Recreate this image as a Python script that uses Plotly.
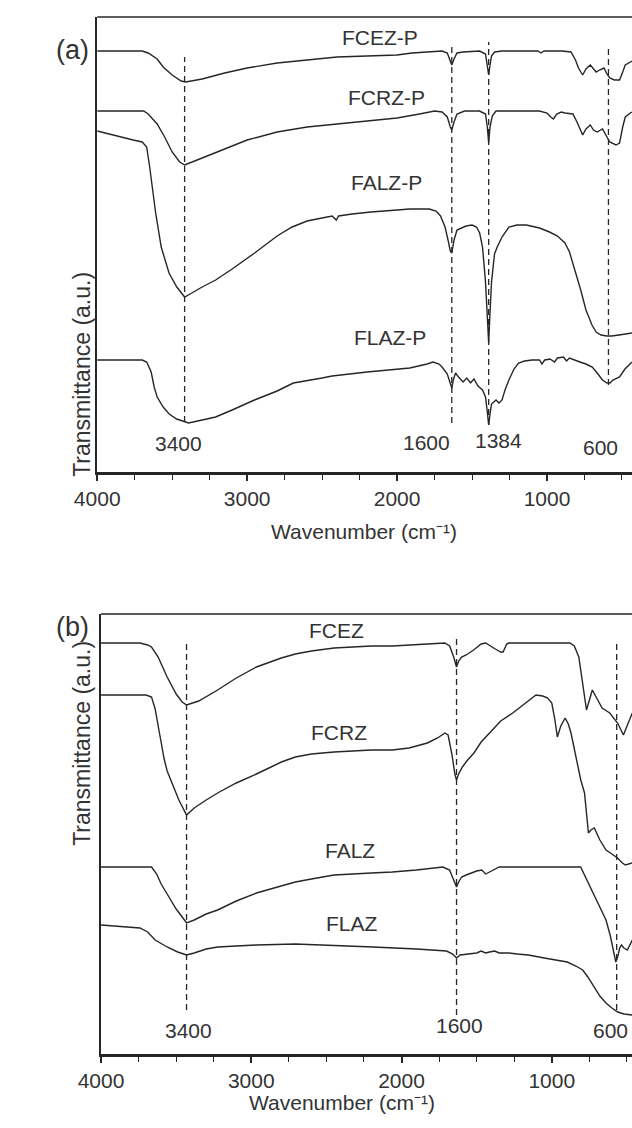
import plotly.graph_objects as go

W, H = 632, 1128

# ---------------- panel (a): treated samples ----------------
fcez_p_wn = [4000, 3700, 3660, 3600, 3560, 3500, 3440, 3410, 3300, 3150, 3000, 2800, 2600, 2400, 2200, 2000, 1900, 1800, 1700,
             1665, 1645, 1635, 1620, 1600, 1560, 1450, 1410, 1395, 1389, 1382, 1370, 1350, 1300, 1150, 1060, 1040, 1020, 900,
             840, 810, 790, 762, 740, 711, 690, 672, 650, 620, 600, 581, 550, 516, 495, 478, 444, 433]
fcez_p_t = [421, 421, 419, 413, 405, 397, 391, 390, 393, 399, 404, 409, 412, 415, 416, 417, 419, 420, 421,
            419, 410, 407, 413, 419, 420, 421, 418, 405, 397, 405, 416, 420, 421, 421, 421, 419, 421, 421,
            420, 412, 404, 397, 403, 407, 403, 400, 402, 404, 398, 394, 392, 392, 400, 407, 410, 411]

fcrz_p_wn = [4000, 3690, 3660, 3600, 3550, 3500, 3450, 3417, 3350, 3200, 3000, 2800, 2600, 2400, 2200, 2000, 1850, 1750, 1700,
             1665, 1645, 1635, 1620, 1600, 1550, 1450, 1410, 1398, 1389, 1380, 1365, 1340, 1050, 1000, 975, 957, 935, 905,
             880, 827, 800, 762, 740, 711, 690, 665, 630, 605, 581, 540, 516, 495, 478, 444, 433]
fcrz_p_t = [361, 361, 358, 348, 335, 320, 310, 307, 311, 320, 332, 340, 345, 348, 351, 354, 358, 361, 360,
            355, 345, 342, 350, 358, 361, 361, 358, 345, 329, 345, 356, 361, 361, 359, 355, 353, 358, 360,
            359, 358, 350, 337, 343, 347, 342, 340, 343, 336, 330, 327, 329, 345, 355, 359, 360]

falz_p_wn = [4000, 3900, 3800, 3760, 3700, 3670, 3650, 3630, 3610, 3573, 3521, 3469, 3417, 3380, 3300, 3210, 3100, 2950,
             2800, 2700, 2600, 2500, 2433, 2405, 2390, 2300, 2174, 2000, 1915, 1785, 1740, 1710, 1680, 1660, 1645, 1635,
             1620, 1600, 1540, 1500, 1470, 1449, 1430, 1410, 1395, 1389, 1383, 1370, 1350, 1332, 1300, 1254, 1200, 1138,
             1050, 983, 930, 900, 880, 850, 820, 800, 775, 740, 700, 672, 640, 600, 568, 520, 480, 433]
falz_p_t = [341, 337, 333, 332, 330, 325, 305, 280, 259, 225, 199, 185, 175, 178, 185, 192, 203, 219,
            236, 245, 251, 254, 256, 252, 256, 258, 260, 262, 263, 263, 261, 256, 245, 232, 221, 219,
            232, 242, 246, 247, 245, 239, 225, 190, 150, 129, 150, 190, 218, 225, 235, 245, 247, 247,
            244, 240, 236, 232, 229, 220, 205, 195, 182, 162, 147, 140, 137, 136, 136, 137, 138, 139]

flaz_p_wn = [4000, 3700, 3670, 3640, 3620, 3600, 3560, 3520, 3470, 3417, 3391, 3300, 3210, 3100, 2951, 2800, 2692, 2500,
             2433, 2200, 1915, 1800, 1760, 1720, 1700, 1665, 1645, 1635, 1625, 1610, 1590, 1560, 1535, 1510, 1487, 1460,
             1430, 1410, 1398, 1389, 1380, 1370, 1355, 1340, 1320, 1300, 1280, 1254, 1220, 1190, 1150, 1100, 1050, 1034,
             1015, 980, 950, 930, 890, 870, 850, 820, 780, 740, 698, 660, 630, 600, 580, 560, 516, 480, 433]
flaz_p_t = [112, 112, 110, 100, 85, 75, 65, 58, 53, 50, 49, 52, 55, 62, 72, 81, 89, 94,
            96, 100, 104, 108, 110, 108, 105, 98, 88, 84, 92, 99, 95, 90, 94, 89, 93, 86,
            82, 75, 60, 47, 58, 68, 70, 72, 69, 72, 82, 92, 103, 109, 111, 112, 112, 108,
            112, 113, 110, 114, 115, 111, 114, 112, 110, 108, 105, 98, 92, 89, 89, 92, 95, 103, 110]

# ---------------- panel (b): untreated samples ----------------
fcez_wn = [4000, 3741, 3690, 3664, 3620, 3560, 3500, 3460, 3431, 3350, 3224, 3100, 2966, 2800, 2707, 2600, 2449, 2200,
           2061, 1931, 1800, 1712, 1680, 1655, 1634, 1620, 1600, 1570, 1520, 1470, 1440, 1400, 1376, 1340, 1324, 1300,
           1286, 880, 850, 820, 769, 730, 665, 614, 562, 523, 484, 464]
fcez_t = [411, 411, 409, 407, 397, 377, 360, 352, 349, 353, 364, 376, 387, 396, 400, 403, 406, 408,
          408, 409, 410, 411, 408, 398, 387, 393, 397, 399, 404, 410, 411, 407, 405, 402, 402, 410,
          411, 411, 408, 397, 344, 364, 346, 341, 331, 319, 334, 341]

fcrz_wn = [4000, 3700, 3664, 3640, 3610, 3580, 3560, 3530, 3482, 3431, 3380, 3300, 3224, 3100, 2966, 2800, 2707, 2600,
           2449, 2200, 2061, 1950, 1828, 1760, 1712, 1690, 1665, 1645, 1634, 1620, 1595, 1560, 1518, 1470, 1414, 1340,
           1260, 1180, 1105, 1060, 1027, 1000, 980, 963, 940, 911, 890, 872, 850, 830, 807, 782, 770, 756, 740, 717,
           680, 639, 600, 562, 530, 510, 464]
fcrz_t = [359, 359, 357, 345, 320, 295, 283, 272, 254, 239, 246, 254, 261, 271, 280, 292, 297, 300,
          302, 304, 304, 306, 311, 316, 321, 319, 300, 280, 274, 280, 287, 294, 301, 312, 321, 333,
          341, 350, 359, 358, 356, 351, 335, 317, 328, 336, 330, 321, 305, 290, 274, 261, 240, 221, 224, 226,
          214, 204, 200, 196, 191, 189, 191]

falz_wn = [4000, 3664, 3630, 3600, 3560, 3500, 3450, 3431, 3380, 3300, 3224, 3100, 2966, 2800, 2707, 2600, 2449, 2200,
           2061, 1900, 1725, 1680, 1650, 1634, 1620, 1600, 1570, 1500, 1466, 1440, 1414, 1390, 1350, 808, 780, 742,
           700, 639, 610, 590, 574, 560, 548, 536, 520, 497, 480, 464]
falz_t = [187, 187, 180, 170, 160, 145, 135, 131, 134, 140, 144, 153, 161, 168, 172, 175, 179, 181,
          182, 184, 187, 184, 172, 167, 172, 177, 179, 183, 184, 180, 182, 184, 187, 187, 178, 167,
          152, 134, 118, 103, 92, 98, 106, 109, 106, 104, 110, 114]

flaz_wn = [4000, 3800, 3741, 3690, 3640, 3560, 3490, 3431, 3380, 3300, 3224, 3100, 2966, 2707, 2500, 2190, 1900, 1700,
           1660, 1634, 1610, 1560, 1500, 1470, 1440, 1414, 1380, 1350, 1286, 1230, 1156, 1050, 980, 897, 840, 794,
           760, 717, 680, 639, 600, 561, 520, 464]
flaz_t = [129, 127, 126, 122, 114, 107, 102, 99, 101, 105, 107, 108, 109, 110, 109, 107, 105, 103,
          100, 96, 99, 100, 101, 103, 101, 102, 103, 101, 101, 100, 99, 96, 94, 92, 88, 84,
          77, 67, 58, 51, 46, 42, 40, 39]

curves_a = [("FCEZ-P", fcez_p_wn, fcez_p_t), ("FCRZ-P", fcrz_p_wn, fcrz_p_t),
            ("FALZ-P", falz_p_wn, falz_p_t), ("FLAZ-P", flaz_p_wn, flaz_p_t)]
curves_b = [("FCEZ", fcez_wn, fcez_t), ("FCRZ", fcrz_wn, fcrz_t),
            ("FALZ", falz_wn, falz_t), ("FLAZ", flaz_wn, flaz_t)]

# curve name labels: (text, wavenumber, transmittance)
names_a = [("FCEZ-P", 2117, 435), ("FCRZ-P", 2070, 375), ("FALZ-P", 2070, 290), ("FLAZ-P", 2044, 135)]
names_b = [("FCEZ", 2436, 424), ("FCRZ", 2418, 322), ("FALZ", 2346, 204), ("FLAZ", 2333, 131)]

# dashed peak markers: (line wn, T bottom, T top)
peaks_a = [(3417, 50, 415), (1635, 49, 429), (1389, 47, 430), (590, 87, 427)]
peaks_b = [(3431, 44, 411), (1634, 39, 416), (568, 44, 411)]
# peak labels: (text, wn, T)
peak_lbl_a = [("3400", 3456, 29), ("1600", 1806, 30), ("1384", 1325, 32), ("600", 641, 25)]
peak_lbl_b = [("3400", 3418, 24), ("1600", 1617, 29), ("600", 611, 24)]

INK = "#262626"
TXT = "#333333"
FONT = "Liberation Sans, Arial, sans-serif"
XTITLE = "Wavenumber (cm\u207b\u00b9)"

fig = go.Figure()

def px_x(p):
    return p / W

def px_y(p):
    return 1 - p / H

panels = [
    # curves, names, peaks, peak labels, axis suffix, left px, top px, bottom px, x range, y range
    (curves_a, names_a, peaks_a, peak_lbl_a, "", 77, 17, 472, [4000, 433], [0, 455]),
    (curves_b, names_b, peaks_b, peak_lbl_b, "2", 81, 614, 1054, [4000, 466], [0, 440]),
]

for curves, names, peaks, plbl, s, left, top, bot, xr, yr in panels:
    xa, ya = "x" + s, "y" + s
    for name, wn, t in curves:
        fig.add_trace(go.Scatter(x=wn, y=t, mode="lines", name=name, xaxis=xa, yaxis=ya,
                                 line=dict(color=INK, width=1.4), showlegend=False, hoverinfo="skip"))
    for wn, t0, t1 in peaks:
        fig.add_trace(go.Scatter(x=[wn, wn], y=[t0, t1], mode="lines", xaxis=xa, yaxis=ya,
                                 line=dict(color=INK, width=1.3, dash="6px,4px"), showlegend=False, hoverinfo="skip"))
    for txt, wn, t in names + plbl:
        fig.add_annotation(x=wn, y=t, xref=xa, yref=ya, text=txt, showarrow=False,
                           font=dict(size=21, color=TXT, family=FONT))
    xkey = "xaxis" + s
    ykey = "yaxis" + s
    fig.update_layout(**{
        xkey: dict(domain=[px_x(left), 1], anchor=ya, range=xr, showgrid=False, zeroline=False,
                   showline=True, linecolor=INK, linewidth=2.5, ticks="outside", ticklen=6, tickwidth=1.5,
                   tickcolor=INK, tickvals=[4000, 3000, 2000, 1000], ticktext=["4000", "3000", "2000", "1000"],
                   minor=dict(dtick=250, tick0=0, ticks="outside", ticklen=5, tickwidth=1.2, tickcolor=INK),
                   tickfont=dict(size=21, color=TXT, family=FONT)),
        ykey: dict(domain=[px_y(bot), px_y(top)], anchor=xa, range=yr, showgrid=False, zeroline=False,
                   showline=True, linecolor=INK, linewidth=1.5, showticklabels=False, ticks=""),
    })
    # top frame line
    fig.add_shape(type="line", xref=xa + " domain", yref=ya + " domain", x0=0, x1=1, y0=1, y1=1,
                  line=dict(color=INK, width=1.5))

# panel letters, axis titles
for txt, x, y in [("(a)", 32, 33), ("(b)", 32, 627)]:
    fig.add_annotation(x=px_x(x), y=px_y(y), xref="paper", yref="paper", text=txt, showarrow=False,
                       font=dict(size=27, color=TXT, family=FONT))
for x, y in [(354, 531), (331, 1116)]:
    fig.add_annotation(x=px_x(x), y=px_y(y), xref="paper", yref="paper", text=XTITLE,
                       showarrow=False, font=dict(size=21, color=TXT, family=FONT))
for x, y in [(45, 270), (45, 848)]:
    fig.add_annotation(x=px_x(x), y=px_y(y), xref="paper", yref="paper", text="Transmittance (a.u.)",
                       textangle=-90, showarrow=False, font=dict(size=23, color=TXT, family=FONT))

fig.update_layout(width=W, height=H, margin=dict(l=0, r=0, t=0, b=0),
                  paper_bgcolor="white", plot_bgcolor="white", font=dict(family=FONT))

# the page body has a default 8px margin; drop it so the figure sits at the window origin
fig.write_html("out.html", config={"displayModeBar": False},
               post_script="document.body.style.margin='0px';")
